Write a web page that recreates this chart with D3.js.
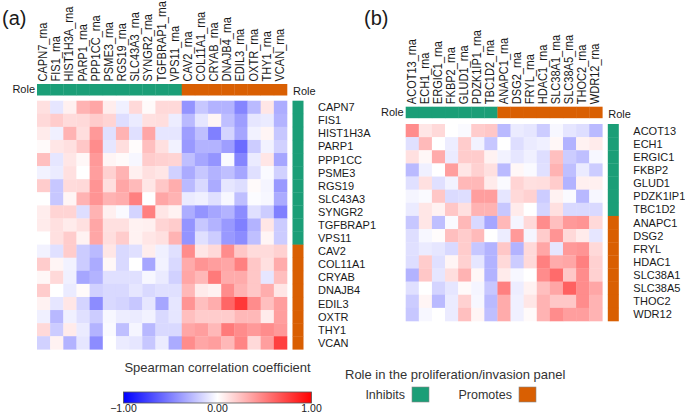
<!DOCTYPE html>
<html>
<head>
<meta charset="utf-8">
<script src="https://cdn.jsdelivr.net/npm/d3@7"></script>
<style>
  body { margin: 0; background: #fff; }
  text { font-family: "Liberation Sans", Arial, sans-serif; fill: #1a1a1a; }
</style>
</head>
<body>
<div class="chart"></div>
<script>
// panel (a) data
var genesA = ["CAPN7", "FIS1", "HIST1H3A", "PARP1", "PPP1CC", "PSME3", "RGS19", "SLC43A3", "SYNGR2", "TGFBRAP1", "VPS11",
              "CAV2", "COL11A1", "CRYAB", "DNAJB4", "EDIL3", "OXTR", "THY1", "VCAN"];
var rolesA = ["Inhibits", "Inhibits", "Inhibits", "Inhibits", "Inhibits", "Inhibits", "Inhibits", "Inhibits", "Inhibits", "Inhibits", "Inhibits",
              "Promotes", "Promotes", "Promotes", "Promotes", "Promotes", "Promotes", "Promotes", "Promotes"];
var valuesA = [
  [0.12, -0.10, 0.06, 0.30, 0.35, 0.07, -0.06, 0.15, 0.02, 0.15, 0.15, -0.42, -0.22, -0.30, -0.30, -0.48, -0.27, 0.10, -0.32],
  [0.15, 0.20, 0.14, 0.15, 0.20, 0.17, -0.13, -0.08, 0.12, 0.13, -0.07, -0.27, -0.10, 0.04, -0.25, -0.38, -0.10, -0.08, -0.30],
  [0.08, -0.06, 0.30, 0.13, 0.40, -0.12, 0.30, -0.12, 0.35, -0.10, -0.10, -0.38, -0.25, -0.50, -0.17, -0.35, -0.05, 0.04, -0.22],
  [0.02, 0.10, 0.12, 0.22, 0.45, -0.10, 0.13, 0.01, 0.25, 0.12, -0.05, -0.40, -0.30, -0.30, -0.38, -0.58, -0.20, -0.05, -0.18],
  [0.25, -0.10, 0.10, 0.03, 0.40, 0.04, 0.02, -0.03, 0.20, 0.18, 0.17, -0.25, -0.35, -0.42, -0.02, -0.48, -0.08, 0.10, -0.35],
  [-0.05, -0.08, 0.12, 0.00, 0.38, 0.18, 0.30, 0.06, 0.12, 0.10, -0.18, -0.33, -0.22, -0.30, -0.25, -0.35, -0.12, -0.02, -0.18],
  [0.20, -0.22, 0.14, 0.15, 0.42, 0.13, 0.35, 0.27, 0.10, 0.22, 0.32, -0.27, -0.15, -0.33, -0.10, -0.13, 0.02, -0.04, -0.40],
  [0.00, -0.22, 0.04, 0.30, 0.42, 0.30, 0.32, 0.50, 0.00, 0.35, 0.30, -0.08, -0.06, -0.12, -0.03, -0.25, -0.01, -0.03, -0.33],
  [0.07, 0.17, 0.17, -0.13, 0.30, 0.06, -0.02, -0.17, 0.50, 0.10, 0.05, -0.32, -0.42, -0.35, -0.30, -0.45, -0.12, -0.20, -0.50],
  [0.08, 0.12, 0.08, 0.12, 0.35, 0.12, 0.12, 0.05, 0.06, 0.17, 0.20, -0.42, -0.22, -0.30, -0.40, -0.50, -0.30, 0.10, -0.20],
  [0.00, 0.12, 0.20, 0.05, 0.35, 0.13, 0.20, 0.05, 0.10, 0.12, 0.30, -0.42, -0.12, -0.20, -0.40, -0.45, -0.25, 0.04, -0.20],
  [-0.05, -0.12, 0.20, -0.20, -0.27, 0.10, -0.15, -0.12, 0.07, -0.06, -0.12, 0.45, 0.10, 0.15, 0.45, 0.22, 0.14, 0.14, 0.18],
  [0.20, 0.04, -0.05, -0.20, -0.33, 0.03, -0.15, 0.00, -0.35, -0.05, -0.15, 0.33, 0.42, 0.38, 0.35, 0.50, 0.22, 0.12, 0.33],
  [0.03, 0.15, -0.06, -0.35, -0.30, -0.12, -0.12, -0.12, -0.03, -0.08, -0.18, 0.35, 0.28, 0.52, 0.33, 0.33, 0.22, -0.10, 0.25],
  [0.20, 0.00, -0.08, 0.02, -0.18, -0.15, -0.15, -0.10, -0.15, -0.12, -0.12, 0.28, 0.08, 0.05, 0.45, 0.30, 0.22, 0.32, 0.10],
  [0.05, -0.10, 0.10, -0.17, -0.45, -0.15, -0.17, -0.22, -0.10, -0.35, -0.10, 0.42, 0.25, 0.32, 0.60, 0.78, 0.45, 0.25, 0.38],
  [-0.06, -0.28, -0.06, -0.12, -0.20, -0.03, -0.07, -0.08, -0.05, -0.15, -0.10, 0.25, 0.20, 0.20, 0.20, 0.28, 0.28, 0.08, 0.38],
  [0.15, -0.20, 0.08, -0.08, -0.30, -0.02, -0.25, -0.04, -0.28, -0.15, -0.15, 0.35, 0.38, 0.28, 0.52, 0.45, 0.40, 0.45, 0.40],
  [-0.18, 0.05, -0.30, -0.10, -0.45, 0.00, -0.08, -0.10, -0.22, -0.08, -0.33, 0.45, 0.35, 0.38, 0.28, 0.48, 0.15, 0.38, 0.75]
];

// panel (b) data
var genesB = ["ACOT13", "ECH1", "ERGIC1", "FKBP2", "GLUD1", "PDZK1IP1", "TBC1D2",
              "ANAPC1", "DSG2", "FRYL", "HDAC1", "SLC38A1", "SLC38A5", "THOC2", "WDR12"];
var rolesB = ["Inhibits", "Inhibits", "Inhibits", "Inhibits", "Inhibits", "Inhibits", "Inhibits",
              "Promotes", "Promotes", "Promotes", "Promotes", "Promotes", "Promotes", "Promotes", "Promotes"];
var valuesB = [
  [0.45, 0.10, 0.15, 0.00, -0.02, 0.20, 0.22, -0.27, -0.08, -0.10, -0.20, -0.03, -0.10, -0.13, -0.27],
  [-0.12, 0.27, 0.00, -0.07, 0.20, -0.05, -0.22, 0.00, -0.13, -0.08, -0.06, 0.03, -0.30, 0.05, 0.08],
  [0.12, 0.03, 0.33, -0.08, 0.20, 0.20, 0.05, -0.05, -0.10, -0.06, -0.13, 0.25, -0.20, -0.25, -0.03],
  [-0.27, -0.06, 0.00, 0.38, 0.10, 0.18, 0.12, -0.27, 0.03, -0.02, -0.12, 0.30, -0.25, -0.08, -0.20],
  [-0.12, 0.12, -0.12, -0.05, 0.28, 0.28, 0.08, -0.02, 0.17, 0.12, 0.13, 0.20, -0.30, 0.06, 0.06],
  [-0.04, -0.02, 0.22, -0.14, -0.13, 0.38, 0.38, -0.10, 0.15, 0.18, -0.20, 0.05, -0.02, -0.28, -0.03],
  [-0.08, 0.10, 0.05, 0.22, 0.12, 0.30, 0.30, -0.22, 0.08, 0.00, -0.17, 0.12, -0.15, -0.15, -0.15],
  [-0.22, 0.10, -0.25, -0.02, 0.28, -0.15, -0.35, 0.28, -0.04, 0.15, 0.45, 0.25, 0.40, 0.42, 0.15],
  [-0.13, -0.03, 0.01, 0.25, 0.20, 0.27, 0.00, -0.07, 0.40, -0.04, 0.20, 0.42, 0.15, 0.08, -0.10],
  [-0.12, -0.08, -0.10, -0.15, 0.20, -0.22, -0.30, 0.22, -0.30, 0.15, 0.35, -0.10, 0.40, 0.42, 0.15],
  [-0.13, 0.20, -0.12, 0.04, 0.18, -0.10, -0.30, 0.15, -0.20, 0.15, 0.50, 0.33, 0.35, 0.50, 0.18],
  [-0.30, 0.22, -0.10, 0.13, 0.30, 0.03, -0.30, 0.08, -0.03, 0.00, 0.45, 0.58, 0.22, 0.45, 0.18],
  [-0.12, 0.00, -0.17, -0.10, 0.02, -0.04, -0.22, 0.50, -0.07, 0.05, 0.25, 0.35, 0.62, 0.45, 0.35],
  [-0.20, 0.04, -0.27, -0.08, 0.18, -0.03, -0.27, 0.33, -0.06, 0.10, 0.30, 0.22, 0.22, 0.45, 0.30],
  [-0.22, -0.03, 0.00, -0.08, 0.25, 0.04, -0.25, 0.33, -0.06, 0.02, 0.30, 0.45, 0.38, 0.38, 0.30]
];

var roleNames = ["Inhibits", "Promotes"];
var legendTicks = [-1, 0, 1];

var width = 685, height = 413;

var svg = d3.select(".chart")
    .append("svg")
    .attr("width", width)
    .attr("height", height);

var color = d3.scaleLinear()
    .domain([-1, 0, 1])
    .range(["#0000ff", "#ffffff", "#ff0000"]);

var roleColor = d3.scaleOrdinal()
    .domain(roleNames)
    .range(["#1b9e77", "#d95f02"]);

function drawPanel(cfg) {
    var x = d3.scaleBand().domain(cfg.genes).range([cfg.x0, cfg.x1]);
    var y = d3.scaleBand().domain(cfg.genes).range([cfg.y0, cfg.y1]);
    var g = svg.append("g");

    // panel tag
    g.append("text")
        .attr("x", cfg.tagX)
        .attr("y", 25)
        .style("font-size", "20px")
        .text(cfg.tag);

    // column labels (tall, slightly narrow glyphs like the original)
    g.selectAll(".collab")
        .data(cfg.genes)
        .enter().append("text")
        .attr("transform", function (d) {
            return "translate(" + (x(d) + x.bandwidth() / 2 + 3.5) + "," + (cfg.barY - 2.5) + ") rotate(-90) scale(0.85,1)";
        })
        .style("font-size", "13px")
        .text(function (d) { return d + "_rna"; });

    // top role bar
    g.selectAll(".topbar")
        .data(cfg.genes)
        .enter().append("rect")
        .attr("x", function (d) { return x(d); })
        .attr("y", cfg.barY)
        .attr("width", x.bandwidth() + 0.3)
        .attr("height", 11.5)
        .style("fill", function (d, i) { return roleColor(cfg.roles[i]); });

    g.append("text")
        .attr("x", cfg.x0 - 2)
        .attr("y", cfg.barY + 9)
        .attr("text-anchor", "end")
        .style("font-size", "11px")
        .text("Role");

    // cells
    cfg.values.forEach(function (row, r) {
        g.selectAll(".cell" + r)
            .data(row)
            .enter().append("rect")
            .attr("x", function (d, c) { return x(cfg.genes[c]); })
            .attr("y", y(cfg.genes[r]))
            .attr("width", x.bandwidth() + 0.3)
            .attr("height", y.bandwidth() + 0.3)
            .style("fill", function (d) { return color(d); });
    });

    // right role bar
    var sideX = cfg.x1 + 5.5;
    g.selectAll(".sidebar")
        .data(cfg.genes)
        .enter().append("rect")
        .attr("x", sideX)
        .attr("y", function (d) { return y(d); })
        .attr("width", 11)
        .attr("height", y.bandwidth() + 0.3)
        .style("fill", function (d, i) { return roleColor(cfg.roles[i]); });

    g.append("text")
        .attr("x", sideX + 0.5)
        .attr("y", cfg.barY + 11)
        .style("font-size", "11px")
        .text("Role");

    // row labels
    g.selectAll(".rowlab")
        .data(cfg.genes)
        .enter().append("text")
        .attr("x", sideX + 25.5)
        .attr("y", function (d) { return y(d) + y.bandwidth() / 2 + 4; })
        .style("font-size", "11px")
        .text(function (d) { return d; });
}

drawPanel({ tag: "(a)", tagX: 2, genes: genesA, roles: rolesA, values: valuesA,
            x0: 37, x1: 287, y0: 100.7, y1: 349.3, barY: 84 });
drawPanel({ tag: "(b)", tagX: 364, genes: genesB, roles: rolesB, values: valuesB,
            x0: 405.7, x1: 602.3, y0: 124, y1: 321, barY: 106.7 });

// colour legend
var defs = svg.append("defs");
var grad = defs.append("linearGradient").attr("id", "corrGrad");
grad.selectAll("stop")
    .data(d3.range(0, 1.001, 0.1))
    .enter().append("stop")
    .attr("offset", function (d) { return (d * 100) + "%"; })
    .attr("stop-color", function (d) { return color(d * 2 - 1); });

var legX = d3.scaleLinear().domain([-1, 1]).range([123.5, 311.5]);

svg.append("text")
    .attr("x", 217.5)
    .attr("y", 372)
    .attr("text-anchor", "middle")
    .style("font-size", "13px")
    .style("fill", "#333")
    .text("Spearman correlation coefficient");

svg.append("rect")
    .attr("x", legX(-1))
    .attr("y", 392)
    .attr("width", legX(1) - legX(-1))
    .attr("height", 11)
    .style("fill", "url(#corrGrad)")
    .style("stroke", "#555")
    .style("stroke-width", 0.8);

svg.selectAll(".legtick")
    .data(legendTicks)
    .enter().append("text")
    .attr("x", function (d) { return legX(d); })
    .attr("y", 411.5)
    .attr("text-anchor", "middle")
    .style("font-size", "10.5px")
    .text(function (d) { return d3.format(".2f")(d); });

// role legend
svg.append("text")
    .attr("x", 345)
    .attr("y", 379)
    .style("font-size", "13px")
    .style("fill", "#333")
    .text("Role in the proliferation/invasion panel");

var roleLeg = svg.selectAll(".roleleg")
    .data(roleNames)
    .enter().append("g")
    .attr("transform", function (d, i) { return "translate(" + (i === 0 ? 412 : 519) + ",387)"; });

roleLeg.append("rect")
    .attr("width", 17)
    .attr("height", 15)
    .style("fill", function (d) { return roleColor(d); })
    .style("stroke", "#888")
    .style("stroke-width", 0.6);

roleLeg.append("text")
    .attr("x", -7)
    .attr("y", 12)
    .attr("text-anchor", "end")
    .style("font-size", "12.5px")
    .style("fill", "#333")
    .text(function (d) { return d; });
</script>
</body>
</html>
